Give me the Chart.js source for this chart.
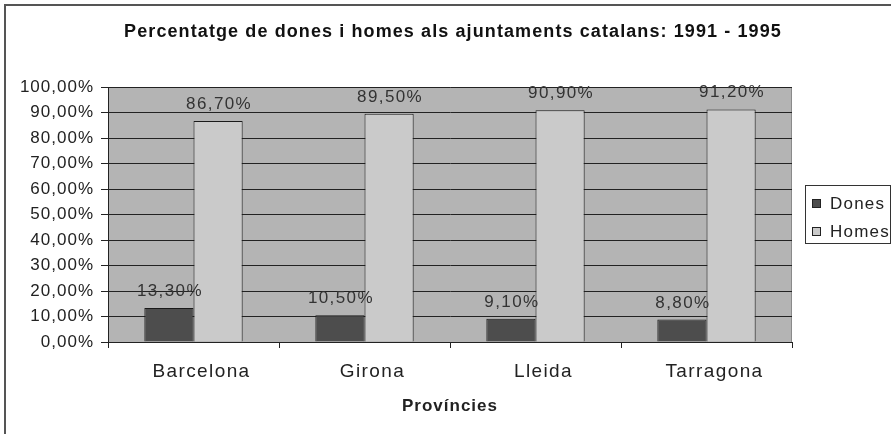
<!DOCTYPE html>
<html><head><meta charset="utf-8">
<script src="https://cdn.jsdelivr.net/npm/chart.js@4/dist/chart.umd.min.js"></script>
<style>html,body{margin:0;padding:0;background:#fff}#wrap{width:891px;height:434px;position:relative}</style>
</head><body><div id="wrap"><canvas id="c" width="891" height="434"></canvas></div>
<script>
const categories = ['Barcelona', 'Girona', 'Lleida', 'Tarragona'];
const dones = [13.3, 10.5, 9.1, 8.8];
const homes = [86.7, 89.5, 90.9, 91.2];
const seriesNames = ['Dones', 'Homes'];
const yTicks = [0, 10, 20, 30, 40, 50, 60, 70, 80, 90, 100];
const titleText = 'Percentatge de dones i homes als ajuntaments catalans: 1991 - 1995';
const xTitle = 'Províncies';

const FONT = '"Liberation Sans", Arial, sans-serif';
const fmt = v => v.toFixed(2).replace('.', ',') + '%';
const colors = ['#4d4d4d', '#cacaca'];

function spaced(s, spacing) {
  if (s._spacedPatched) return;
  s._spacedPatched = true;
  const orig = s.drawLabels;
  s.drawLabels = function (area) {
    const ctx = this.ctx;
    ctx.save();
    ctx.letterSpacing = spacing;
    orig.call(this, area);
    ctx.restore();
  };
}

const decor = {
  id: 'decor',
  beforeDraw(chart) {
    const {ctx, chartArea: a} = chart;
    ctx.save();
    ctx.fillStyle = '#fff';
    ctx.fillRect(0, 0, chart.width, chart.height);
    ctx.fillStyle = '#b4b4b4';
    ctx.fillRect(a.left, a.top, a.right - a.left, a.bottom - a.top);
    ctx.strokeStyle = '#8a8a8a';
    ctx.lineWidth = 1;
    ctx.strokeRect(a.left + 0.5, a.top + 0.5, a.right - a.left - 1, a.bottom - a.top);
    ctx.restore();
  },
  afterDraw(chart) {
    const {ctx} = chart;
    ctx.save();
    // outer border
    ctx.strokeStyle = '#555';
    ctx.lineWidth = 2;
    ctx.beginPath();
    ctx.moveTo(5, chart.height);
    ctx.lineTo(5, 5);
    ctx.lineTo(chart.width, 5);
    ctx.stroke();
    // title
    ctx.fillStyle = '#111';
    ctx.font = 'bold 18px ' + FONT;
    ctx.letterSpacing = '1.1px';
    ctx.textAlign = 'center';
    ctx.textBaseline = 'middle';
    ctx.fillText(titleText, 453, 32);
    // axis title
    ctx.font = 'bold 17px ' + FONT;
    ctx.letterSpacing = '1px';
    ctx.fillStyle = '#222';
    ctx.fillText(xTitle, 450, 406);
    // data labels
    ctx.font = '17px ' + FONT;
    ctx.letterSpacing = '1.4px';
    ctx.fillStyle = '#333';
    ctx.textBaseline = 'alphabetic';
    chart.data.datasets.forEach((ds, di) => {
      chart.getDatasetMeta(di).data.forEach((bar, i) => {
        ctx.fillText(fmt(ds.data[i]), bar.x + 1, bar.y - 12);
      });
    });
    // legend
    ctx.letterSpacing = '1.2px';
    ctx.fillStyle = '#fff';
    ctx.fillRect(805, 185, 85, 58);
    ctx.strokeStyle = '#333';
    ctx.lineWidth = 1;
    ctx.strokeRect(805.5, 185.5, 85, 58);
    ctx.textAlign = 'left';
    ctx.textBaseline = 'middle';
    ctx.font = '17px ' + FONT;
    const ys = [203, 231];
    seriesNames.forEach((n, i) => {
      ctx.fillStyle = colors[i];
      ctx.fillRect(812, ys[i] - 4, 8, 8);
      ctx.strokeStyle = '#222';
      ctx.strokeRect(812.5, ys[i] - 3.5, 8, 8);
      ctx.fillStyle = '#222';
      ctx.fillText(n, 830, ys[i] + 1);
    });
    ctx.restore();
  }
};

new Chart(document.getElementById('c'), {
  type: 'bar',
  data: {
    labels: categories,
    datasets: [
      {label: seriesNames[0], data: dones, backgroundColor: colors[0], borderColor: '#1a1a1a', borderWidth: 1},
      {label: seriesNames[1], data: homes, backgroundColor: colors[1], borderColor: '#1a1a1a', borderWidth: 1}
    ]
  },
  options: {
    responsive: false,
    animation: false,
    devicePixelRatio: 1,
    layout: {padding: {left: 0, top: 87, right: 99, bottom: 0}},
    plugins: {legend: {display: false}, title: {display: false}, tooltip: {enabled: false}},
    datasets: {bar: {categoryPercentage: 0.575, barPercentage: 1.0}},
    scales: {
      x: {
        grid: {display: true, drawOnChartArea: false, drawTicks: true, tickLength: 6, color: '#222', offset: true},
        border: {display: true, color: '#222'},
        ticks: {color: '#222', font: {family: FONT, size: 19}, padding: 12, labelOffset: 8},
        afterFit(s) { s.height = 92; spaced(s, '1.4px'); }
      },
      y: {
        min: 0, max: 100,
        afterBuildTicks(s) { s.ticks = yTicks.map(v => ({value: v})); },
        grid: {color: '#222', lineWidth: 1, drawTicks: true, tickLength: 7},
        border: {display: true, color: '#222'},
        ticks: {color: '#222', font: {family: FONT, size: 17}, padding: 7, callback: v => fmt(v)},
        afterFit(s) { s.width = 108; spaced(s, '1px'); }
      }
    }
  },
  plugins: [decor]
});
</script></body></html>
